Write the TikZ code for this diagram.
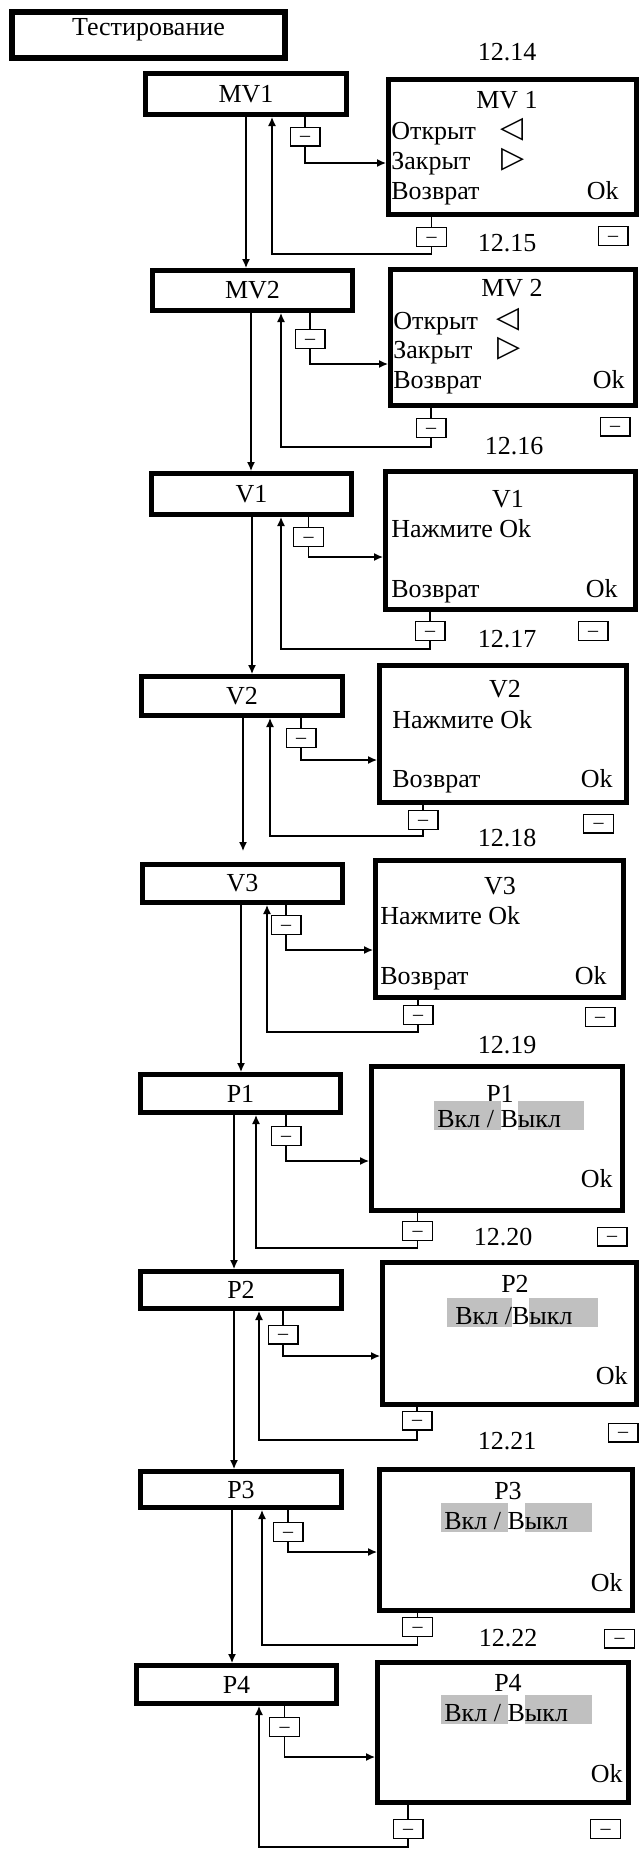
\documentclass[tikz,border=0pt]{standalone}
\usepackage{fontspec}
\setmainfont{Liberation Serif}
\newfontfamily\symfont{DejaVu Sans}
\usetikzlibrary{arrows.meta}
\definecolor{hlgray}{RGB}{192,192,192}
\newcommand\gbx[3]{{\setlength\fboxsep{0pt}\colorbox{hlgray}{\rule[-1.5pt]{0pt}{14.5pt}\hspace*{#1}#3\hspace*{#2}}}}
\newcommand\kb[6]{\node[kbox, minimum width={(#4-#2)*0.5pt-2.5pt}, minimum height={(#5-#3)*0.5pt-2.5pt}] (#1) at ({(#2+#4)/2},{(#3+#5)/2}) {#6};}
\newcommand\mb[3]{\node[mbox] (#1) at (#2,#3) {\textendash};}
\tikzset{
  kbox/.style={draw, rectangle, line width=2.5pt, inner sep=0pt},
  mbox/.style={draw, rectangle, line width=0.7pt, inner sep=0pt, minimum width=14.8pt, minimum height=9.3pt, text height=5pt, text depth=0pt, font=\fontsize{10}{10}\selectfont},
  conn/.style={line width=0.65pt},
  arr/.style={conn, -{Latex[length=4.5pt,width=4pt]}},
  tl/.style={anchor=base west, inner sep=0pt},
  tr/.style={anchor=base east, inner sep=0pt},
  ttl/.style={anchor=base, inner sep=0pt},
  lab/.style={anchor=base, inner sep=0pt},
  sym/.style={inner sep=0pt, font=\symfont\fontsize{15}{15}\selectfont}
}
\begin{document}
\begin{tikzpicture}[x=0.5pt, y=-0.5pt, font=\fontsize{13}{15}\selectfont]
\useasboundingbox[fill=white] (0,0) rectangle (643,1852);

% title box
\node[kbox, line width=3pt, minimum width={(288-9)*0.5pt-3pt}, minimum height={(61-9)*0.5pt-3pt}, text height=9pt, text depth=8.4pt] (test) at (148.5,35) {Тестирование};
\node[lab] (l14) at (507,61) {12.14};

% ---------- MV1
\kb{mv1}{143}{71}{349}{117}{MV1}
\kb{s1}{386}{77}{639}{217}{}
\node[ttl] (s1t) at (507,108) {MV 1};
\node[tl] (s1a) at (391,139) {Открыт};
\node[sym] (s1as) at (512,130) {◁};
\node[tl] (s1b) at (391,169) {Закрыт};
\node[sym] (s1bs) at (513,160) {▷};
\node[tl] (s1c) at (391,199) {Возврат};
\node[tr] (s1d) at (619,199) {Ok};
\mb{a1}{305}{136.5}
\mb{b1}{431.5}{237}
\mb{c1}{613}{236}
\node[lab] (l15) at (507,251) {12.15};

% ---------- MV2
\kb{mv2}{150}{268}{355}{313}{MV2}
\kb{s2}{388}{267}{638}{408}{}
\node[ttl] (s2t) at (512,296) {MV 2};
\node[tl] (s2a) at (393,329) {Открыт};
\node[sym] (s2as) at (508,320) {◁};
\node[tl] (s2b) at (393,358) {Закрыт};
\node[sym] (s2bs) at (509,349) {▷};
\node[tl] (s2c) at (393,388) {Возврат};
\node[tr] (s2d) at (625,388) {Ok};
\mb{a2}{310}{339}
\mb{b2}{431}{428}
\mb{c2}{615}{426.5}
\node[lab] (l16) at (514,454) {12.16};

% ---------- V1
\kb{v1}{149}{471}{354}{517}{V1}
\kb{s3}{383}{469}{638}{612}{}
\node[ttl] (s3t) at (508,507) {V1};
\node[tl] (s3a) at (391,537) {Нажмите Ok};
\node[tl] (s3c) at (391,597) {Возврат};
\node[tr] (s3d) at (618,597) {Ok};
\mb{a3}{308.5}{537}
\mb{b3}{430}{631}
\mb{c3}{593}{631}
\node[lab] (l17) at (507,647) {12.17};

% ---------- V2
\kb{v2}{139}{674}{345}{718}{V2}
\kb{s4}{377}{663}{629}{805}{}
\node[ttl] (s4t) at (505,697) {V2};
\node[tl] (s4a) at (392,728) {Нажмите Ok};
\node[tl] (s4c) at (392,787) {Возврат};
\node[tr] (s4d) at (613,787) {Ok};
\mb{a4}{301}{738}
\mb{b4}{423}{820}
\mb{c4}{598.5}{823.5}
\node[lab] (l18) at (507,846) {12.18};

% ---------- V3
\kb{v3}{140}{862}{345}{905}{V3}
\kb{s5}{373}{858}{626}{1000}{}
\node[ttl] (s5t) at (500,894) {V3};
\node[tl] (s5a) at (380,924) {Нажмите Ok};
\node[tl] (s5c) at (380,984) {Возврат};
\node[tr] (s5d) at (607,984) {Ok};
\mb{a5}{286}{925}
\mb{b5}{418}{1015}
\mb{c5}{600}{1017}
\node[lab] (l19) at (507,1053) {12.19};

% ---------- P1
\kb{p1}{138}{1072}{343}{1115}{P1}
\kb{s6}{369}{1064}{625}{1213}{}
\node[ttl] (s6t) at (500,1102) {P1};
\node[tl] (s6a) at (434,1127) {\gbx{1.5pt}{0pt}{Вкл / }В\gbx{0pt}{11.5pt}{ыкл}};
\node[tr] (s6d) at (613,1187) {Ok};
\mb{a6}{286}{1136}
\mb{b6}{417.5}{1231}
\mb{c6}{612}{1236.5}
\node[lab] (l20) at (503,1245) {12.20};

% ---------- P2
\kb{p2}{138}{1269}{344}{1311}{P2}
\kb{s7}{380}{1260}{639}{1407}{}
\node[ttl] (s7t) at (515,1292) {P2};
\node[tl] (s7a) at (447,1324) {\gbx{4pt}{0pt}{Вкл /}В\gbx{0pt}{13pt}{ыкл}};
\node[tr] (s7d) at (628,1384) {Ok};
\mb{a7}{283}{1334.5}
\mb{b7}{417}{1420.5}
\mb{c7}{623}{1432.5}
\node[lab] (l21) at (507,1449) {12.21};

% ---------- P3
\kb{p3}{138}{1469}{344}{1510}{P3}
\kb{s8}{377}{1467}{635}{1613}{}
\node[ttl] (s8t) at (508,1499) {P3};
\node[tl] (s8a) at (441,1529) {\gbx{1.5pt}{0pt}{Вкл / }В\gbx{0pt}{12pt}{ыкл}};
\node[tr] (s8d) at (623,1591) {Ok};
\mb{a8}{288}{1532}
\mb{b8}{417.5}{1627}
\mb{c8}{619.5}{1638.5}
\node[lab] (l22) at (508,1646) {12.22};

% ---------- P4
\kb{p4}{134}{1663}{339}{1706}{P4}
\kb{s9}{375}{1660}{631}{1805}{}
\node[ttl] (s9t) at (508,1691) {P4};
\node[tl] (s9a) at (441,1721) {\gbx{1.5pt}{0pt}{Вкл / }В\gbx{0pt}{12pt}{ыкл}};
\node[tr] (s9d) at (623,1782) {Ok};
\mb{a9}{284.5}{1727}
\mb{b9}{408}{1829}
\mb{c9}{605.5}{1829}

% ---------- connectors
% down chain
\draw[arr] (246,0 |- mv1.south) -- (246,0 |- mv2.north);
\draw[arr] (251,0 |- mv2.south) -- (251,0 |- v1.north);
\draw[arr] (252,0 |- v1.south) -- (252,0 |- v2.north);
\draw[arr, shorten >=5.5pt] (243,0 |- v2.south) -- (243,0 |- v3.north);
\draw[arr] (241,0 |- v3.south) -- (241,0 |- p1.north);
\draw[arr] (234,0 |- p1.south) -- (234,0 |- p2.north);
\draw[arr] (234,0 |- p2.south) -- (234,0 |- p3.north);
\draw[arr] (232,0 |- p3.south) -- (232,0 |- p4.north);

% MV1
\draw[conn] (a1.north |- mv1.south) -- (a1.north);
\draw[arr] (a1.south) |- (s1.west |- 0,163);
\draw[conn] (s1.south -| b1.north) -- (b1.north);
\draw[arr] (b1.south) |- (272,254) -- (272,0 |- mv1.south);
% MV2
\draw[conn] (a2.north |- mv2.south) -- (a2.north);
\draw[arr] (a2.south) |- (s2.west |- 0,364);
\draw[conn] (s2.south -| b2.north) -- (b2.north);
\draw[arr] (b2.south) |- (281,447) -- (281,0 |- mv2.south);
% V1
\draw[conn] (a3.north |- v1.south) -- (a3.north);
\draw[arr] (a3.south) |- (s3.west |- 0,557);
\draw[conn] (s3.south -| b3.north) -- (b3.north);
\draw[arr] (b3.south) |- (281,649) -- (281,0 |- v1.south);
% V2
\draw[conn] (a4.north |- v2.south) -- (a4.north);
\draw[arr] (a4.south) |- (s4.west |- 0,760);
\draw[conn] (s4.south -| b4.north) -- (b4.north);
\draw[arr] (b4.south) |- (270,836) -- (270,0 |- v2.south);
% V3
\draw[conn] (a5.north |- v3.south) -- (a5.north);
\draw[arr] (a5.south) |- (s5.west |- 0,950);
\draw[conn] (s5.south -| b5.north) -- (b5.north);
\draw[arr] (b5.south) |- (267,1032) -- (267,0 |- v3.south);
% P1
\draw[conn] (a6.north |- p1.south) -- (a6.north);
\draw[arr] (a6.south) |- (s6.west |- 0,1161);
\draw[conn] (s6.south -| b6.north) -- (b6.north);
\draw[arr] (b6.south) |- (256,1248) -- (256,0 |- p1.south);
% P2
\draw[conn] (a7.north |- p2.south) -- (a7.north);
\draw[arr] (a7.south) |- (s7.west |- 0,1356);
\draw[conn] (s7.south -| b7.north) -- (b7.north);
\draw[arr] (b7.south) |- (259,1440) -- (259,0 |- p2.south);
% P3
\draw[conn] (a8.north |- p3.south) -- (a8.north);
\draw[arr] (a8.south) |- (s8.west |- 0,1552);
\draw[conn] (s8.south -| b8.north) -- (b8.north);
\draw[arr] (b8.south) |- (262,1645) -- (262,0 |- p3.south);
% P4
\draw[conn] (a9.north |- p4.south) -- (a9.north);
\draw[arr] (a9.south) |- (s9.west |- 0,1757);
\draw[conn] (s9.south -| b9.north) -- (b9.north);
\draw[arr] (b9.south) |- (259,1847) -- (259,0 |- p4.south);
\end{tikzpicture}
\end{document}
